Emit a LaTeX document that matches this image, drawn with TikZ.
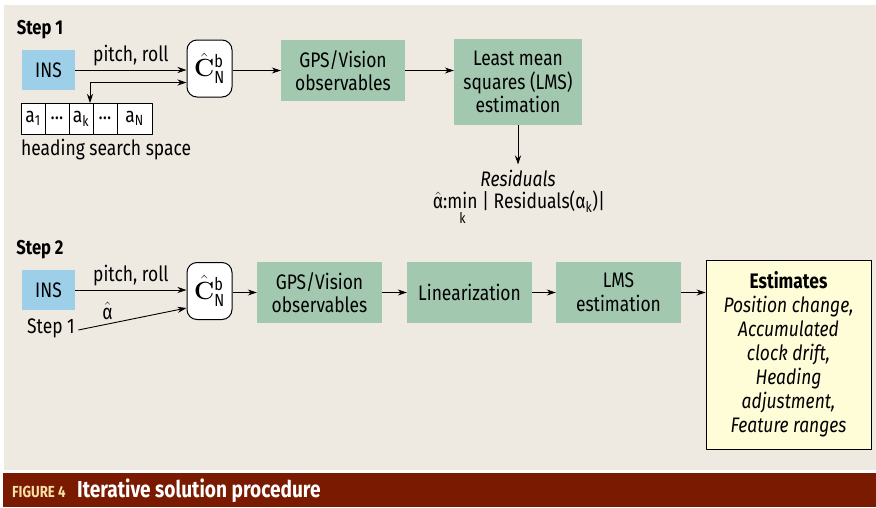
\documentclass[tikz,border=0pt]{standalone}
\usepackage{amsmath}
\usepackage[no-math]{fontspec}
\setmainfont{Fira Sans}[FakeStretch=0.83]
\usetikzlibrary{positioning,arrows.meta}

\definecolor{bgbeige}{RGB}{238,234,225}
\definecolor{insblue}{RGB}{157,207,232}
\definecolor{boxgreen}{RGB}{162,200,176}
\definecolor{estyellow}{RGB}{255,252,216}
\definecolor{capred}{RGB}{122,26,0}
\definecolor{capcream}{RGB}{247,224,168}

\newcommand{\chatbn}{\fontsize{25}{25}\selectfont$\hat{\mathbf{C}}^{\text{b}}_{\text{N}}$}
\newcommand{\alphahat}{$\hat{\text{α}}$}

\tikzset{
  insbox/.style={fill=insblue, minimum width=53pt, minimum height=40pt, inner sep=0pt},
  greenbox/.style={fill=boxgreen, align=center, inner sep=0pt, minimum height=61pt},
  cbox/.style={draw, fill=white, rounded corners=10pt, line width=1pt, minimum width=45pt, minimum height=57pt, inner sep=0pt},
  cell/.style={draw, fill=white, line width=0.8pt, minimum height=31pt, inner sep=0pt, outer sep=0pt},
  arr/.style={-{Stealth[length=9pt,width=6pt]}, line width=0.9pt},
}

\begin{document}
\begin{tikzpicture}[x=1pt, y=-1pt, font=\fontsize{21}{23.5}\selectfont, line join=round]
\useasboundingbox (0,0) rectangle (876,507);
\fill[bgbeige] (4,5) rectangle (876,470);
\fill[capred] (3,473) rectangle (876,507);
\node[anchor=base west, inner sep=0pt, text=capcream, font=\fontsize{16}{16}\selectfont\bfseries] (fignum) at (12,497) {FIGURE 4};
\node[anchor=base west, inner sep=0pt, text=white, font=\fontsize{23}{23}\selectfont\bfseries] (figtitle) at (77,497) {Iterative solution procedure};

% step 1
\node[font=\fontsize{20}{23}\selectfont\bfseries] (step1) at (40,30) {Step 1};
\node[insbox] (ins1) at (48.5,70) {INS};
\node[cbox] (cn1) at (209.5,68.5) {\chatbn};
\node[greenbox, minimum width=124pt] (gps1) at (343,70.5) {GPS/Vision\\observables};
\node[greenbox, minimum width=128pt, minimum height=86pt] (lms1) at (518,82) {Least mean\\squares (LMS)\\estimation};
\node[cell, minimum width=24pt] (a1) at (33,118.5) {a$_\text{1}$};
\node[cell, minimum width=24pt, right=0pt of a1] (d1) {...};
\node[cell, minimum width=24pt, right=0pt of d1] (ak) {a$_\text{k}$};
\node[cell, minimum width=24pt, right=0pt of ak] (d2) {...};
\node[cell, minimum width=35pt, right=0pt of d2] (aN) {a$_\text{N}$};
\node[anchor=north west, inner sep=0pt] (hss) at ([yshift=-5pt]a1.south west) {heading search space};
\node[font=\fontsize{21}{23}\selectfont\itshape, inner sep=2pt] (resid) at (518,178) {Residuals};
\node[inner sep=1pt] (amin) at (519,208) {\alphahat:$\mathop{\text{min}}\limits_{\text{k}}$ | Residuals($\text{α}_\text{k}$)|};
\coordinate (akt) at ([xshift=9pt]ak.north);
\draw[arr] (ins1.east) -- node[above] {pitch, roll} (ins1.east -| cn1.west);
\draw[{Stealth[length=9pt,width=6pt]}-{Stealth[length=9pt,width=6pt]}, line width=0.9pt] (akt) |- ([yshift=-14pt]cn1.west);
\draw[arr] (cn1.east |- gps1.west) -- (gps1.west);
\draw[arr] (gps1.east) -- (gps1.east -| lms1.west);
\draw[arr] (lms1.south) -- ([yshift=3pt]resid.north);

% step 2
\node[font=\fontsize{20}{23}\selectfont\bfseries] (step2) at (40,250) {Step 2};
\node[insbox] (ins2) at (48.5,290) {INS};
\node (s1in) at (51,328) {Step 1};
\node[cbox] (cn2) at (209.5,291) {\chatbn};
\node[greenbox, minimum width=125pt] (gps2) at (319.5,292.5) {GPS/Vision\\observables};
\node[greenbox, minimum width=125pt] (lin) at (469.5,292.5) {Linearization};
\node[greenbox, minimum width=125pt] (lms2) at (618.5,292.5) {LMS\\estimation};
\node[draw, fill=estyellow, line width=0.9pt, align=center, minimum width=165pt, minimum height=189pt, inner sep=0pt, font=\fontsize{21}{24}\selectfont] (est) at (788.5,354.5) {\textbf{Estimates}\\\itshape Position change,\\\itshape Accumulated\\\itshape clock drift,\\\itshape Heading\\\itshape adjustment,\\\itshape Feature ranges};
\draw[arr] (ins2.east) -- node[above] {pitch, roll} (ins2.east -| cn2.west);
\draw[arr] ([yshift=-2pt]s1in.east) -- node[pos=0.27, above=1pt] {\alphahat} ([yshift=-17pt]cn2.west);
\draw[arr] (cn2.east |- gps2.west) -- (gps2.west);
\draw[arr] (gps2.east) -- (lin.west);
\draw[arr] (lin.east) -- (lms2.west);
\draw[arr] (lms2.east) -- (est.west |- lms2.east);
\end{tikzpicture}
\end{document}
